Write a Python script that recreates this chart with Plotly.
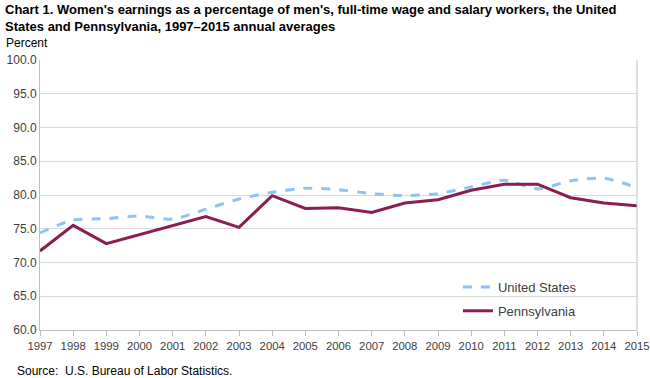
import plotly.graph_objects as go

years = list(range(1997, 2016))
us = [74.4, 76.3, 76.5, 76.9, 76.4, 77.9, 79.4, 80.4, 81.0, 80.8, 80.2, 79.9, 80.2, 81.2, 82.2, 80.9, 82.1, 82.5, 81.1]
pa = [71.7, 75.5, 72.8, 74.1, 75.5, 76.8, 75.2, 79.9, 78.0, 78.1, 77.4, 78.8, 79.3, 80.7, 81.6, 81.6, 79.6, 78.8, 78.4]
y_ticks = [60, 65, 70, 75, 80, 85, 90, 95, 100]

fig = go.Figure()
fig.add_trace(go.Scatter(x=years, y=us, name="United States", mode="lines", legendgroup="us",
                         line=dict(color="#8CC3F8", width=3, dash="dash", shape="spline", smoothing=0.6)))
fig.add_trace(go.Scatter(x=years, y=pa, name="Pennsylvania", mode="lines", legendgroup="pa",
                         line=dict(color="#8B1D50", width=3)))

fig.update_layout(
    width=650, height=378,
    margin=dict(l=40, r=13, t=60, b=48, autoexpand=False),
    paper_bgcolor="white", plot_bgcolor="white",
    font=dict(family="Liberation Sans, Arial, sans-serif", size=12, color="#404040"),
    showlegend=True,
    legend=dict(x=0.70, y=0.215, xanchor="left", yanchor="top", bgcolor="rgba(0,0,0,0)",
                font=dict(size=13, color="#404040"), tracegroupgap=4),
    xaxis=dict(range=[1997, 2015], tickmode="array", tickvals=years, ticktext=[str(y) for y in years],
               showgrid=False, showline=True, linecolor="#BFBFBF", linewidth=1, automargin=False,
               ticks="outside", ticklen=5, tickcolor="#BFBFBF", ticklabeloverflow="allow",
               tickfont=dict(size=11.3, color="#404040"), zeroline=False),
    yaxis=dict(range=[60, 100], tickmode="array", tickvals=y_ticks, automargin=False,
               ticktext=[f"{v:.1f}" for v in y_ticks],
               showgrid=True, gridcolor="#D9D9D9", gridwidth=1,
               showline=True, linecolor="#BFBFBF", linewidth=1, ticks="",
               tickfont=dict(size=12, color="#404040"), zeroline=False),
)
fig.add_shape(type="line", xref="paper", yref="paper", x0=1, x1=1, y0=0, y1=1,
              line=dict(color="#BFBFBF", width=1))

fig.add_annotation(text="<b>Chart 1. Women's earnings as a percentage of men's, full-time wage and salary workers, the United<br>States and Pennsylvania, 1997\u20132015 annual averages</b>",
                   xref="paper", yref="paper", x=-37/597, y=1 + 60/270, xanchor="left", yanchor="top",
                   showarrow=False, align="left", font=dict(size=13, color="#000000"))
fig.add_annotation(text="Percent", xref="paper", yref="paper", x=-36/597, y=1 + 17/270,
                   xanchor="left", yanchor="middle", showarrow=False, font=dict(size=12, color="#000000"))
fig.add_annotation(text="Source:  U.S. Bureau of Labor Statistics.", xref="paper", yref="paper",
                   x=-25/597, y=-41/270, xanchor="left", yanchor="middle", showarrow=False,
                   font=dict(size=12, color="#000000"))

fig.write_html("out.html", config={"displayModeBar": False},
               post_script="document.body.style.margin='0';document.body.style.overflow='hidden';")
